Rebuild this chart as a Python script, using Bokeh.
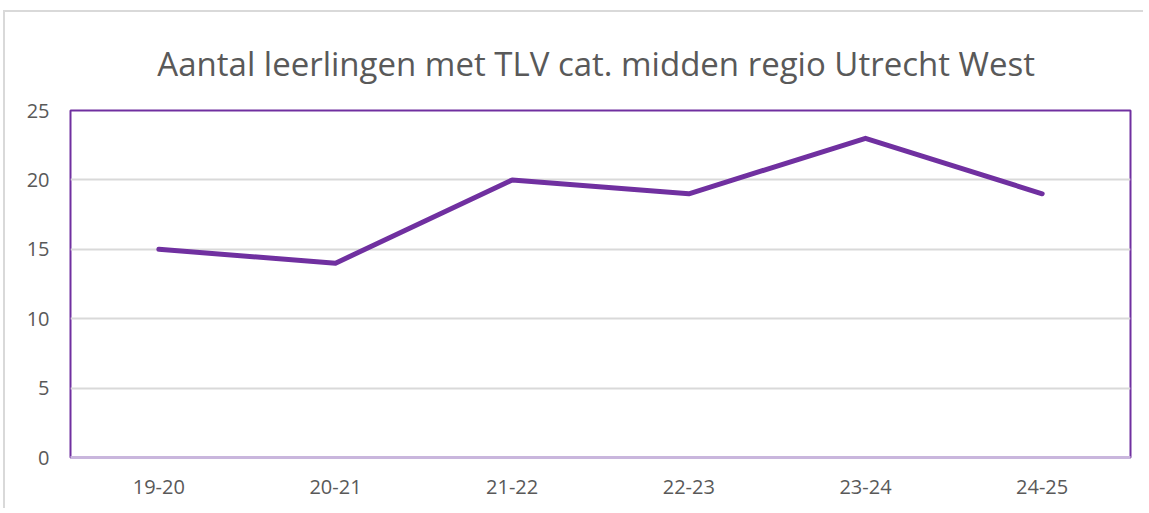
from bokeh.plotting import figure
from bokeh.models import Range1d, FixedTicker
from bokeh.embed import file_html
from bokeh.resources import INLINE

categories = ["19-20", "20-21", "21-22", "22-23", "23-24", "24-25"]
values = [15, 14, 20, 19, 23, 19]
y_ticks = [0, 5, 10, 15, 20, 25]

TITLE = "Aantal leerlingen met TLV cat. midden  regio Utrecht West"
FONT = "Open Sans"
GREY = "#595959"
PURPLE = "#7030A0"

p = figure(width=1140, height=498, x_range=categories, y_range=Range1d(0, 25),
           output_backend="svg", toolbar_location=None, title=TITLE,
           min_border_left=65, min_border_right=15, min_border_top=98, min_border_bottom=53)
p.x_range.range_padding = 0

p.title.align = "center"
p.title.text_font = FONT
p.title.text_font_size = "33px"
p.title.text_font_style = "normal"
p.title.text_color = GREY
p.title.standoff = 50

p.line(x=categories, y=values, line_color=PURPLE, line_width=5,
       line_cap="round", line_join="round")

p.outline_line_color = PURPLE
p.outline_line_width = 2

p.yaxis.ticker = FixedTicker(ticks=y_ticks)
p.yaxis.axis_line_color = None
p.yaxis.major_tick_line_color = None
p.yaxis.minor_tick_line_color = None
p.yaxis.major_label_text_font = FONT
p.yaxis.major_label_text_font_size = "20px"
p.yaxis.major_label_text_color = GREY
p.yaxis.major_label_standoff = 15

p.xaxis.axis_line_color = "#C9B6DD"
p.xaxis.axis_line_width = 3
p.xaxis.major_tick_line_color = None
p.xaxis.minor_tick_line_color = None
p.xaxis.major_label_text_font = FONT
p.xaxis.major_label_text_font_size = "20px"
p.xaxis.major_label_text_color = GREY
p.xaxis.major_label_standoff = 16

p.xgrid.grid_line_color = None
p.ygrid.grid_line_color = "#D9D9D9"
p.ygrid.grid_line_width = 2

p.background_fill_color = "white"
p.border_fill_color = "white"
p.styles = {"margin": "10px 0 0 3px",
            "border-left": "2px solid #D9D9D9", "border-top": "2px solid #D9D9D9"}

open("out.html", "w").write(file_html(p, INLINE))
